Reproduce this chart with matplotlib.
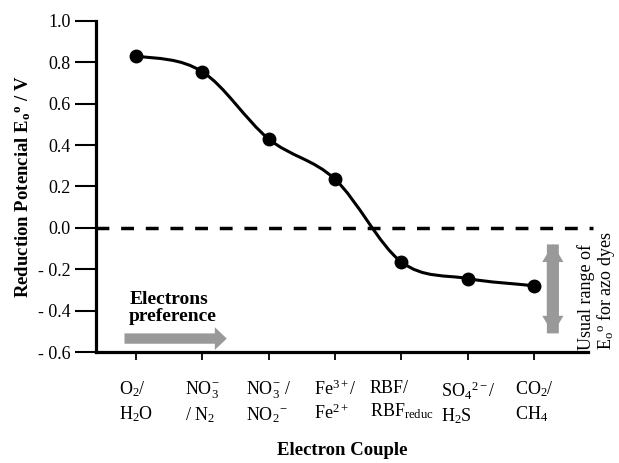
import numpy as np
import matplotlib
matplotlib.use('Agg')
import matplotlib.pyplot as plt
from matplotlib.path import Path
from matplotlib.patches import PathPatch, FancyArrow

# 폰트 설정 (Times 느낌)
plt.rcParams['font.family'] = ['Liberation Serif', 'DejaVu Serif']
plt.rcParams['mathtext.fontset'] = 'custom'
plt.rcParams['mathtext.rm'] = 'Liberation Serif'
plt.rcParams['mathtext.it'] = 'Liberation Serif:italic'
plt.rcParams['mathtext.bf'] = 'Liberation Serif:bold'

# 데이터
couples = [r'O$_2$/' + '\n' + r'H$_2$O',
           r'NO$_3^{-}$' + '\n' + r'/ N$_2$',
           r'NO$_3^{-}$ /' + '\n' + r'NO$_2$$^{-}$',
           r'Fe$^{3+}$/' + '\n' + r'Fe$^{2+}$',
           'RBF/\n' + r'RBF$_{\rm reduc}$',
           r'SO$_4$$^{2-}$/' + '\n' + r'H$_2$S',
           r'CO$_2$/' + '\n' + r'CH$_4$']
potential = [0.83, 0.755, 0.43, 0.235, -0.165, -0.245, -0.28]
y_ticks = [1.0, 0.8, 0.6, 0.4, 0.2, 0.0, -0.2, -0.4, -0.6]
y_tick_labels = ['1.0', '0.8', '0.6', '0.4', '0.2', '0.0', '- 0.2', '- 0.4', '- 0.6']

x = np.arange(len(couples), dtype=float)
y = np.array(potential)

fig = plt.figure(figsize=(6.19, 4.63), dpi=100)
ax = fig.add_axes([0.155, 0.2397, 0.795, 0.715])

# 점을 지나는 부드러운 곡선 (Catmull-Rom -> Bezier)
pts = np.column_stack([x, y])
verts = [pts[0]]
codes = [Path.MOVETO]
for i in range(len(pts) - 1):
    p_prev = pts[i - 1] if i > 0 else pts[i] - (pts[i + 1] - pts[i]) * np.array([1, 0])
    p_next = pts[i + 2] if i + 2 < len(pts) else pts[i + 1] + (pts[i + 1] - pts[i])
    c1 = pts[i] + (pts[i + 1] - p_prev) / 6
    c2 = pts[i + 1] - (p_next - pts[i]) / 6
    verts += [c1, c2, pts[i + 1]]
    codes += [Path.CURVE4] * 3
ax.add_patch(PathPatch(Path(verts, codes), fill=False, lw=2.2, color='black'))
ax.plot(x, y, 'o', color='black', ms=9)

# 0 V 기준선
ax.axhline(0, color='black', lw=2.5, ls=(0, (3.7, 3.4)), xmax=1.01, clip_on=False)

# 화살표
ax.add_patch(FancyArrow(-0.17, -0.535, 1.54, 0, width=0.05, head_width=0.11,
                        head_length=0.18, length_includes_head=True,
                        color='#999999', lw=0))
ax.add_patch(FancyArrow(6.28, -0.08, 0, -0.43, width=0.18, head_width=0.32,
                        head_length=0.085, length_includes_head=True,
                        color='#999999', lw=0))
ax.add_patch(FancyArrow(6.28, -0.51, 0, 0.43, width=0.18, head_width=0.32,
                        head_length=0.085, length_includes_head=True,
                        color='#999999', lw=0))

ax.text(-0.1, -0.305, 'Electrons\npreference', fontsize=14, fontweight='bold',
        ha='left', va='top', linespacing=1.0)
ax.text(6.94, -0.305, 'Usual range of\n' + r'E$_{\rm o}$$^{\rm o}$ for azo dyes',
        fontsize=13, rotation=90, ha='center', va='center',
        multialignment='left', linespacing=1.0, clip_on=False)

# 축 설정
ax.set_xlim(-0.6, 6.81)
ax.set_ylim(-0.6, 1.0)
ax.set_xticks(x)
ax.set_xticklabels(couples, fontsize=13, multialignment='left', linespacing=1.3)
ax.set_yticks(y_ticks)
ax.set_yticklabels(y_tick_labels, fontsize=13)
ax.tick_params(axis='y', direction='out', length=15, width=1.5, pad=3)
ax.tick_params(axis='x', direction='out', length=6, width=1.3, pad=14)
for s in ['top', 'right']:
    ax.spines[s].set_visible(False)
for s in ['left', 'bottom']:
    ax.spines[s].set_linewidth(2.3)

ax.set_xlabel('Electron Couple', fontsize=13.5, fontweight='bold')
ax.xaxis.set_label_coords(0.5, -0.272)
ax.set_ylabel(r'Reduction Potencial E$_{\mathbf{o}}$$^{\mathbf{o}}$ / V',
              fontsize=13.5, fontweight='bold', labelpad=4)

fig.savefig('out.png', dpi=100)
